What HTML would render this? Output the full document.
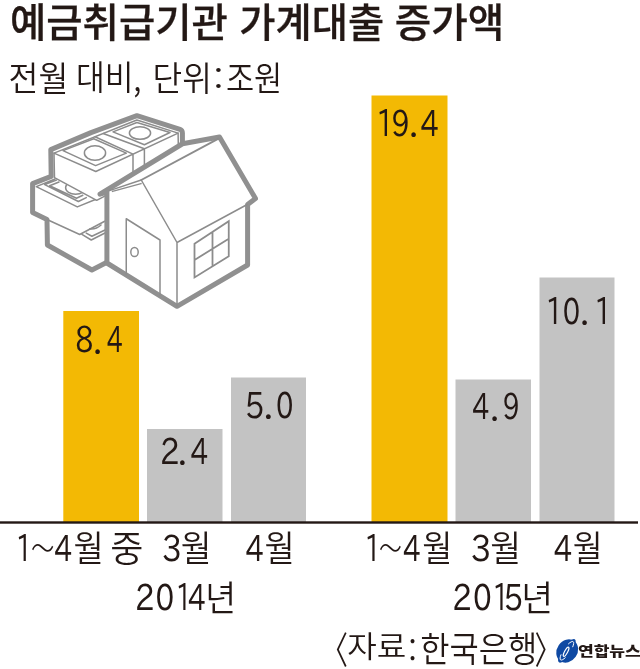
<!DOCTYPE html>
<html lang="ko">
<head>
<meta charset="utf-8">
<title>예금취급기관 가계대출 증가액</title>
<style>
html,body{margin:0;padding:0;background:#fff;}
body{width:640px;height:669px;overflow:hidden;position:relative;}
svg{position:absolute;left:0;top:0;display:block;}
text{fill:#231815;font-family:"Noto Sans CJK KR","Liberation Sans","NanumGothic",sans-serif;}
.d{font-family:"IPAPGothic","IPAGothic","Noto Sans CJK KR",sans-serif;font-weight:400;}
.p{font-family:"Noto Sans CJK KR","NanumGothic",sans-serif;font-weight:400;}
.w{font-family:"Noto Sans CJK KR","NanumGothic",sans-serif;font-weight:100;}
</style>
</head>
<body>
<svg width="640" height="669" viewBox="0 0 640 669">
<rect x="0" y="0" width="640" height="669" fill="#ffffff"/>

<!-- title -->
<text id="title" y="36.7" font-size="39.7" font-weight="500" stroke="#231815" stroke-width="0.3"><tspan id="t1" x="9.90" textLength="218.08" lengthAdjust="spacingAndGlyphs">예금취급기관</tspan> <tspan id="t2" x="239.37" textLength="144.75" lengthAdjust="spacingAndGlyphs">가계대출</tspan> <tspan id="t3" x="394.73" textLength="109.60" lengthAdjust="spacingAndGlyphs">증가액</tspan></text>
<text id="sub" y="90.6" font-size="34.3" font-weight="350"><tspan id="s1" x="8.58" textLength="59.76" y="90.6" lengthAdjust="spacingAndGlyphs">전월</tspan> <tspan id="s2" x="75.98" textLength="57.51" y="89.6" font-size="34.2" lengthAdjust="spacingAndGlyphs">대비</tspan><tspan id="s3" x="133.28" textLength="8.14" y="91.5" lengthAdjust="spacingAndGlyphs">,</tspan> <tspan id="s4" x="152.55" textLength="59.35" y="90.6" lengthAdjust="spacingAndGlyphs">단위</tspan><tspan id="s5" x="213.46" textLength="9.90" y="90.8" font-size="31" lengthAdjust="spacingAndGlyphs">:</tspan><tspan id="s6" x="225.98" textLength="56.31" y="90.6" lengthAdjust="spacingAndGlyphs">조원</tspan></text>

<!-- illustration: house + money bundles -->
<g id="illust" fill="none" stroke="#8c8c8c" stroke-width="1.5" stroke-linejoin="round" stroke-linecap="round">
<!-- bottom bundle -->
<path fill="#fff" stroke="none" d="M47 219.6 L47.4 245 L91.9 270 L106.5 262.5 L106.5 221 L79.7 234.5 Z"/>
<!-- middle bundle -->
<path fill="#fff" stroke="none" d="M34 185 L36.25 186.6 L60 177 L104 196 L104.7 221.25 L79.7 234.5 L47 219.5 L34 212 Z"/>
<!-- outer contour of the money stack -->
<path id="mthick" stroke="#909090" stroke-width="5" d="M106.5 262.5 L91.9 270 L47.4 245 L47 219.6 L32.6 212.5 L32.6 183.6 L51.2 176.4 L50.8 149.6 L91 132.6 L136.9 115.7 L180 129.4 Q182.4 130.3 182.4 133 L182.4 143.5"/>
<path d="M81.9 234.4 L91.25 240 L105 233 M86.25 233.1 L91.9 236.25 L105 230"/>
<path stroke-width="1.6" d="M90 228.9 Q96 229.6 101 225"/>
<path d="M47 219.5 L79.7 234.5 L104.7 221.25 M55 179 L36.25 186.6 L77.3 206.9 L96 199.3 M56.5 180.1 L44.7 184.6 L78.4 201.5 L86.3 197.65 M59 182 L49.6 185.7 L76.5 198.2 L82.8 195.2"/>
<ellipse cx="75.6" cy="187.75" rx="10" ry="6.5"/>
<!-- top bundle -->
<path fill="#fff" d="M54.5 177.6 L54 153.1 L136.9 120 L178.1 133.1 L178.5 157 L96.7 200.3 Z"/>
<path d="M54 153.1 L95.8 171.5 L178.1 133.1 M95 136.7 L133 154.1 L133 176 M103.2 133.5 L144.4 148.8 L144.4 170"/>
<path d="M63 150.6 L93.75 138.75 L126.35 153.15 L95.6 165.6 Z M113 131.9 L136.9 122.5 L170 132.5 L144.4 144.75 Z"/>
<ellipse cx="95" cy="153.1" rx="10.6" ry="7.25"/>
<ellipse cx="140" cy="133.1" rx="10.6" ry="6.25"/>
<!-- house -->
<path id="hthick" fill="#fff" stroke="#909090" stroke-width="5" d="M100 194.2 L182.5 143.75 L219.5 137 L255.5 198.6 L247.6 204.5 L247.6 265 L177 306.3 L106.9 263 L106.9 192 Z"/>
<path d="M109.5 190.6 L141.25 180 M112.5 191.4 L141 183.6 M141.25 180 L177 242.5 L247.2 204.5 M177 242.5 L177 306"/>
<path stroke-width="1.9" d="M141.25 180 L218.5 138.6"/>
<path d="M126.25 274 L126.25 218.75 L160 240 L160 295"/>
<ellipse cx="134.5" cy="252" rx="3.7" ry="4.6" stroke-width="1.5"/>
<path stroke-width="1.8" stroke-linejoin="miter" d="M194.5 243.75 L228.75 221.25 L228.75 256.25 L194.5 277.5 Z M212.5 231.9 L212.5 266.3 M194.5 260 L228.75 238.75"/>
</g>

<!-- bars -->
<g id="bars">
<rect x="63.3" y="311" width="75.7" height="211" fill="#f3b904"/>
<rect x="147" y="429" width="75.5" height="93" fill="#c3c3c3"/>
<rect x="231" y="377.5" width="75" height="144.5" fill="#c3c3c3"/>
<rect x="371.5" y="95.5" width="76" height="426.5" fill="#f3b904"/>
<rect x="455.5" y="379.5" width="75.5" height="142.5" fill="#c3c3c3"/>
<rect x="539.5" y="277.5" width="75" height="244.5" fill="#c3c3c3"/>
<rect x="0" y="521.3" width="638" height="2.4" fill="#231815"/>
</g>

<!-- values -->
<g id="vals" font-size="35.2" font-weight="350">
<text id="v1" y="352.2"><tspan id="v1a" x="75.35" textLength="18.19" lengthAdjust="spacingAndGlyphs" class="d">8</tspan><tspan id="v1b" x="92.84" textLength="9.69" font-size="33.5" y="353.5" lengthAdjust="spacingAndGlyphs" class="p">.</tspan><tspan id="v1c" x="106.78" textLength="15.95" y="352.2" lengthAdjust="spacingAndGlyphs" class="d">4</tspan></text>
<text id="v2" y="463.6"><tspan id="v2a" x="159.97" textLength="19.45" lengthAdjust="spacingAndGlyphs" class="d">2</tspan><tspan id="v2b" x="177.54" textLength="9.75" font-size="33.5" y="464.9" lengthAdjust="spacingAndGlyphs" class="p">.</tspan><tspan id="v2c" x="190.45" textLength="17.60" y="463.6" lengthAdjust="spacingAndGlyphs" class="d">4</tspan></text>
<text id="v3" y="418.0"><tspan id="v3a" x="244.84" textLength="19.59" lengthAdjust="spacingAndGlyphs" class="d">5</tspan><tspan id="v3b" x="263.16" textLength="10.25" font-size="33.5" y="419.3" lengthAdjust="spacingAndGlyphs" class="p">.</tspan><tspan id="v3c" x="275.98" textLength="17.45" y="418.0" lengthAdjust="spacingAndGlyphs" class="d">0</tspan></text>
<text id="v4" y="136.0"><tspan id="v4a" x="376.40" textLength="17.22" lengthAdjust="spacingAndGlyphs" class="d">1</tspan><tspan id="v4d" x="391.41" textLength="18.31" lengthAdjust="spacingAndGlyphs" class="d">9</tspan><tspan id="v4b" x="408.73" textLength="9.71" font-size="33.5" y="137.3" lengthAdjust="spacingAndGlyphs" class="p">.</tspan><tspan id="v4c" x="420.40" textLength="18.14" y="136.0" lengthAdjust="spacingAndGlyphs" class="d">4</tspan></text>
<text id="v5" y="419.3"><tspan id="v5a" x="472.30" textLength="16.97" lengthAdjust="spacingAndGlyphs" class="d">4</tspan><tspan id="v5b" x="489.84" textLength="9.69" font-size="33.5" y="420.6" lengthAdjust="spacingAndGlyphs" class="p">.</tspan><tspan id="v5c" x="502.63" textLength="17.04" y="419.3" lengthAdjust="spacingAndGlyphs" class="d">9</tspan></text>
<text id="v6" y="323.5"><tspan id="v6a" x="545.75" textLength="17.24" lengthAdjust="spacingAndGlyphs" class="d">1</tspan><tspan id="v6d" x="562.78" textLength="17.41" lengthAdjust="spacingAndGlyphs" class="d">0</tspan><tspan id="v6b" x="579.84" textLength="9.69" font-size="33.5" y="324.8" lengthAdjust="spacingAndGlyphs" class="p">.</tspan><tspan id="v6c" x="594.40" textLength="17.22" y="323.5" lengthAdjust="spacingAndGlyphs" class="d">1</tspan></text>
</g>

<!-- axis labels -->
<g id="axis" font-size="36.5" font-weight="350">
<text id="a1" y="561.2"><tspan id="a1a" x="15.88" textLength="16.10" lengthAdjust="spacingAndGlyphs" class="d">1</tspan><tspan id="a1d" x="29.75" textLength="25.83" lengthAdjust="spacingAndGlyphs" class="w" y="568.6" font-size="56">~</tspan><tspan id="a1e" x="54.34" textLength="17.86" y="561.2" lengthAdjust="spacingAndGlyphs" class="d">4</tspan><tspan id="a1b" x="73.59" textLength="30.24" lengthAdjust="spacingAndGlyphs" y="562.3" font-size="36.2">월</tspan> <tspan id="a1c" x="110.14" textLength="33.16" lengthAdjust="spacingAndGlyphs" y="562.3" font-size="36.2">중</tspan></text>
<text id="a2" y="561.2"><tspan id="a2a" x="162.08" textLength="20.12" lengthAdjust="spacingAndGlyphs" class="d">3</tspan><tspan id="a2b" x="180.69" textLength="30.72" lengthAdjust="spacingAndGlyphs" y="562.3" font-size="36.2">월</tspan></text>
<text id="a3" y="561.2"><tspan id="a3a" x="245.41" textLength="18.15" lengthAdjust="spacingAndGlyphs" class="d">4</tspan><tspan id="a3b" x="264.42" textLength="30.17" lengthAdjust="spacingAndGlyphs" y="562.3" font-size="36.2">월</tspan></text>
<text id="a4" y="561.2"><tspan id="a4a" x="364.73" textLength="16.10" lengthAdjust="spacingAndGlyphs" class="d">1</tspan><tspan id="a4d" x="377.77" textLength="25.32" lengthAdjust="spacingAndGlyphs" class="w" y="568.6" font-size="56">~</tspan><tspan id="a4e" x="402.95" textLength="17.57" y="561.2" lengthAdjust="spacingAndGlyphs" class="d">4</tspan><tspan id="a4b" x="422.14" textLength="30.10" lengthAdjust="spacingAndGlyphs" y="562.3" font-size="36.2">월</tspan></text>
<text id="a5" y="561.2"><tspan id="a5a" x="470.76" textLength="20.79" lengthAdjust="spacingAndGlyphs" class="d">3</tspan><tspan id="a5b" x="490.20" textLength="30.78" lengthAdjust="spacingAndGlyphs" y="562.3" font-size="36.2">월</tspan></text>
<text id="a6" y="561.2"><tspan id="a6a" x="553.74" textLength="18.36" lengthAdjust="spacingAndGlyphs" class="d">4</tspan><tspan id="a6b" x="572.87" textLength="29.90" lengthAdjust="spacingAndGlyphs" y="562.3" font-size="36.2">월</tspan></text>
<text id="y1" y="610.2" font-size="36"><tspan id="y1a" x="134.94" textLength="19.46" lengthAdjust="spacingAndGlyphs" class="d">2</tspan><tspan id="y1e" x="155.45" textLength="18.75" lengthAdjust="spacingAndGlyphs" class="d">0</tspan><tspan id="y1c" x="175.92" textLength="15.50" lengthAdjust="spacingAndGlyphs" class="d">1</tspan><tspan id="y1d" x="187.95" textLength="17.57" lengthAdjust="spacingAndGlyphs" class="d">4</tspan><tspan id="y1b" x="205.14" textLength="30.84" lengthAdjust="spacingAndGlyphs" y="611.0" font-size="35.5">년</tspan></text>
<text id="y2" y="610.2" font-size="36"><tspan id="y2a" x="452.33" textLength="19.49" lengthAdjust="spacingAndGlyphs" class="d">2</tspan><tspan id="y2e" x="472.96" textLength="18.78" lengthAdjust="spacingAndGlyphs" class="d">0</tspan><tspan id="y2c" x="492.66" textLength="16.09" lengthAdjust="spacingAndGlyphs" class="d">1</tspan><tspan id="y2d" x="503.60" textLength="19.64" lengthAdjust="spacingAndGlyphs" class="d">5</tspan><tspan id="y2b" x="521.35" textLength="31.83" lengthAdjust="spacingAndGlyphs" y="611.0" font-size="35.5">년</tspan></text>
<text id="src" y="663" font-size="37.5"><tspan id="c1" x="320.55" textLength="27.51" y="663.5" lengthAdjust="spacingAndGlyphs">〈</tspan><tspan id="c2" x="347.16" textLength="59.03" y="656.85" font-size="29.7" lengthAdjust="spacingAndGlyphs">자료</tspan><tspan id="c3" x="408.14" textLength="8.61" font-size="32.6" y="663.2" lengthAdjust="spacingAndGlyphs">:</tspan><tspan id="c4" x="420.15" textLength="117.08" font-size="34.8" y="661.95" lengthAdjust="spacingAndGlyphs">한국은행</tspan><tspan id="c5" x="534.48" textLength="27.42" y="663.5" lengthAdjust="spacingAndGlyphs">〉</tspan></text>
</g>

<!-- logo -->
<g id="logo">
<g transform="translate(567.2 651) rotate(-55.5)">
<ellipse cx="0" cy="0" rx="12.2" ry="10.3" fill="#0f49a3"/>
<ellipse cx="0" cy="-0.4" rx="14" ry="4.6" fill="#0f49a3"/>
<path d="M6.6 -3 A12.2 3.3 0 0 1 6.6 2.2 M-6.6 2.2 A12.2 3.3 0 0 1 -6.6 -3" fill="none" stroke="#fff" stroke-width="0.9" stroke-linecap="round"/>
<ellipse cx="-1.2" cy="-0.6" rx="5.2" ry="1.5" fill="none" stroke="#fff" stroke-width="1.2" transform="rotate(-6)"/>
</g>
<text id="lg" y="655.9" font-size="14.1" font-weight="900"><tspan id="lg1" x="577.94" textLength="62.88" lengthAdjust="spacingAndGlyphs">연합뉴스</tspan></text>
</g>
</svg>
</body>
</html>
